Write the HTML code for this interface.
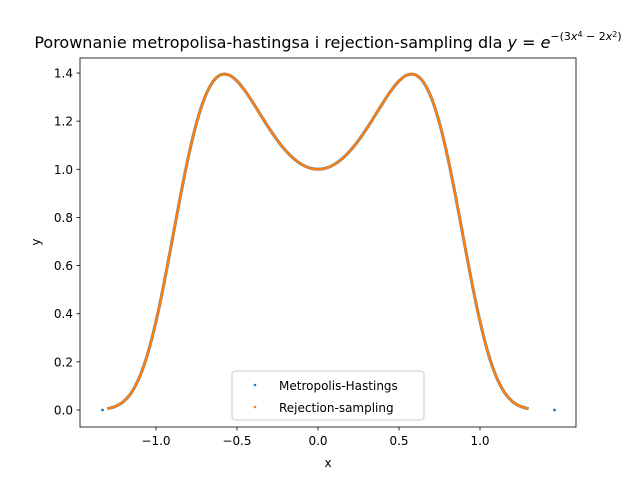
<!DOCTYPE html>
<html><head><meta charset="utf-8"><style>
body{margin:0;background:#fff;}
svg text{font-family:"DejaVu Sans","Liberation Sans",sans-serif;}
</style></head><body>
<svg id="chart" width="640" height="480" xmlns="http://www.w3.org/2000/svg">
<rect width="640" height="480" fill="#fff"/>
<text x="328" y="48" font-size="16" text-anchor="middle">Porownanie metropolisa-hastingsa i rejection-sampling dla <tspan font-style="italic">y</tspan> = <tspan font-style="italic">e</tspan><tspan dy="-8" font-size="11">−(3<tspan font-style="italic">x</tspan><tspan dy="-3" font-size="8">4</tspan><tspan dy="3"> − 2</tspan><tspan font-style="italic">x</tspan><tspan dy="-3" font-size="8">2</tspan><tspan dy="3">)</tspan></tspan></text>
<g id="plot"></g>
<rect x="80" y="58" width="496" height="369" fill="none" stroke="#000" stroke-width="0.8"/>
<g id="axes"></g>
<text x="328" y="467" font-size="12" text-anchor="middle">x</text>
<text x="40" y="242" font-size="12" text-anchor="middle" transform="rotate(-90 40 242)">y</text>
<g>
<rect x="232" y="371" width="192" height="49" rx="3" fill="#fff" fill-opacity="0.8" stroke="#ccc"/>
<circle cx="255" cy="385" r="1.3" fill="#1f77b4"/>
<text x="279" y="390" font-size="12">Metropolis-Hastings</text>
<circle cx="255" cy="407" r="1.3" fill="#ff7f0e"/>
<text x="279" y="412" font-size="12">Rejection-sampling</text>
</g>
</svg>
<script>
const xSamples=[-1.3,-1.25,-1.2,-1.15,-1.1,-1.05,-1.0,-0.95,-0.9,-0.85,-0.8,-0.75,-0.7,-0.65,-0.6,-0.55,-0.5,-0.45,-0.4,-0.35,-0.3,-0.25,-0.2,-0.15,-0.1,-0.05,0,0.05,0.1,0.15,0.2,0.25,0.3,0.35,0.4,0.45,0.5,0.55,0.6,0.65,0.7,0.75,0.8,0.85,0.9,0.95,1.0,1.05,1.1,1.15,1.2,1.25,1.3];
const mhOutliersX=[-1.33,-1.27,1.27,1.28,1.46];
const mhOutliersY=[0.0,0.01,0.012,0.009,0.0];
const xTicks=[-1.0,-0.5,0.0,0.5,1.0];
const yTicks=[0.0,0.2,0.4,0.6,0.8,1.0,1.2,1.4];
const xLabels=["−1.0","−0.5","0.0","0.5","1.0"];
const yLabels=["0.0","0.2","0.4","0.6","0.8","1.0","1.2","1.4"];
function density(x){return Math.exp(-(3*Math.pow(x,4)-2*x*x));}
function sx(v){return 318+v*162;}
function sy(v){return 410-v*240.7;}
const NS="http://www.w3.org/2000/svg";
const plot=document.getElementById('plot');
const axes=document.getElementById('axes');
function pathFor(){
  const p=xSamples.map(x=>[sx(x),sy(density(x))]);
  let d='M'+p[0][0].toFixed(2)+' '+p[0][1].toFixed(2);
  for(let i=0;i<p.length-1;i++){
    const p0=p[Math.max(0,i-1)],p1=p[i],p2=p[i+1],p3=p[Math.min(p.length-1,i+2)];
    const c1=[p1[0]+(p2[0]-p0[0])/6,p1[1]+(p2[1]-p0[1])/6];
    const c2=[p2[0]-(p3[0]-p1[0])/6,p2[1]-(p3[1]-p1[1])/6];
    d+=' C'+c1[0].toFixed(2)+' '+c1[1].toFixed(2)+' '+c2[0].toFixed(2)+' '+c2[1].toFixed(2)+' '+p2[0].toFixed(2)+' '+p2[1].toFixed(2);
  }
  return d;
}
const pb=document.createElementNS(NS,'path');
pb.setAttribute('d',pathFor());pb.setAttribute('fill','none');pb.setAttribute('stroke','#1f77b4');pb.setAttribute('stroke-width','3');


plot.appendChild(pb);
mhOutliersX.forEach((x,i)=>{const c=document.createElementNS(NS,'circle');c.setAttribute('cx',sx(x));c.setAttribute('cy',sy(mhOutliersY[i]));c.setAttribute('r','1.4');c.setAttribute('fill','#1f77b4');


plot.appendChild(c);});
const po=document.createElementNS(NS,'path');
po.setAttribute('d',pathFor());po.setAttribute('fill','none');po.setAttribute('stroke','#ff7f0e');po.setAttribute('stroke-width','2.4');


plot.appendChild(po);
xTicks.forEach((t,i)=>{const x=sx(t);
const l=document.createElementNS(NS,'line');l.setAttribute('x1',x);l.setAttribute('x2',x);l.setAttribute('y1',427);l.setAttribute('y2',430.5);l.setAttribute('stroke','#000');l.setAttribute('stroke-width','0.8');


axes.appendChild(l);
const tx=document.createElementNS(NS,'text');tx.setAttribute('x',x);tx.setAttribute('y',445);tx.setAttribute('font-size','12');tx.setAttribute('text-anchor','middle');tx.textContent=xLabels[i];


axes.appendChild(tx);});
yTicks.forEach((t,i)=>{const y=sy(t);
const l=document.createElementNS(NS,'line');l.setAttribute('x1',76.5);l.setAttribute('x2',80);l.setAttribute('y1',y);l.setAttribute('y2',y);l.setAttribute('stroke','#000');l.setAttribute('stroke-width','0.8');


axes.appendChild(l);
const tx=document.createElementNS(NS,'text');tx.setAttribute('x',73);tx.setAttribute('y',y+4.5);tx.setAttribute('font-size','12');tx.setAttribute('text-anchor','end');tx.textContent=yLabels[i];


axes.appendChild(tx);});
</script>
</body></html>
